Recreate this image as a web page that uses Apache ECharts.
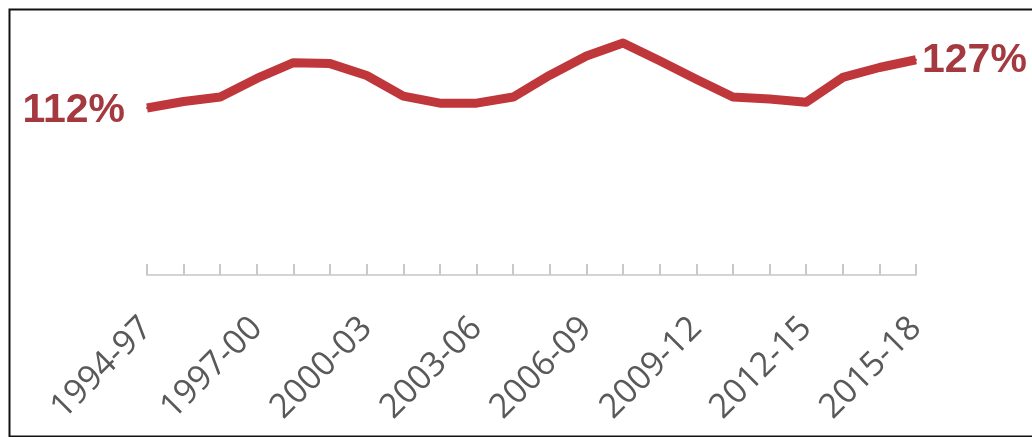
<!DOCTYPE html>
<html>
<head>
<meta charset="utf-8">
<script src="https://cdn.jsdelivr.net/npm/echarts@6/dist/echarts.min.js"></script>
<style>
  html, body { margin: 0; padding: 0; background: #ffffff; }
  #chart { width: 1032px; height: 437px; }
</style>
</head>
<body>
<div id="chart"></div>
<script>
// Three-year periods on the x axis
const periods = [
  '1994-97', '1995-98', '1996-99', '1997-00', '1998-01', '1999-02', '2000-03',
  '2001-04', '2002-05', '2003-06', '2004-07', '2005-08', '2006-09', '2007-10',
  '2008-11', '2009-12', '2010-13', '2011-14', '2012-15', '2013-16', '2014-17',
  '2015-18'
];

// Ratio in percent for each period
const ratioPct = [
  112, 114, 115.4, 121.2, 126.1, 125.8, 122.1, 115.7, 113.5, 113.5, 115.4,
  122.2, 128.2, 132.2, 126.7, 120.9, 115.4, 114.8, 113.8, 121.5, 124.6, 127
];

const lineColor = '#C0373B';
const endLabelColor = '#A4393F';

// Only the first and last points carry a value label
const lastIdx = ratioPct.length - 1;
const seriesData = ratioPct.map((v, i) => {
  if (i === 0) {
    return { value: v, label: { show: true, position: 'left', distance: 21, offset: [0, 3] } };
  }
  if (i === lastIdx) {
    return { value: v, label: { show: true, position: 'right', distance: 5, offset: [0, 1] } };
  }
  return { value: v };
});

const chart = echarts.init(document.getElementById('chart'), null, { renderer: 'canvas' });

chart.setOption({
  backgroundColor: '#ffffff',
  animation: false,
  grid: { left: 147, right: 116, top: 18, bottom: 162 },
  xAxis: {
    type: 'category',
    data: periods,
    boundaryGap: false,
    axisLine: { show: true, lineStyle: { color: '#D4D4D4', width: 2 } },
    axisTick: {
      show: true,
      inside: true,
      length: 11,
      interval: 0,
      lineStyle: { color: '#C8C8C8', width: 2 }
    },
    axisLabel: {
      interval: 2,
      rotate: 45,
      margin: 48,
      color: '#595959',
      fontFamily: 'Open Sans',
      fontSize: 34
    },
    splitLine: { show: false }
  },
  yAxis: {
    type: 'value',
    min: 60,
    max: 140,
    show: false,
    splitLine: { show: false }
  },
  series: [{
    type: 'line',
    data: seriesData,
    symbol: 'circle',
    symbolSize: 2,
    showSymbol: true,
    itemStyle: { color: lineColor },
    lineStyle: { color: lineColor, width: 9, cap: 'butt', join: 'round' },
    label: {
      show: false,
      formatter: p => Math.round(p.value) + '%',
      color: endLabelColor,
      fontFamily: 'Liberation Sans',
      fontWeight: 'bold',
      fontSize: 41
    }
  }],
  graphic: [{
    type: 'rect',
    left: 7,
    top: 7,
    shape: { width: 1040, height: 427 },
    style: { fill: 'none', stroke: '#111111', lineWidth: 2 },
    silent: true
  }]
});
</script>
</body>
</html>
